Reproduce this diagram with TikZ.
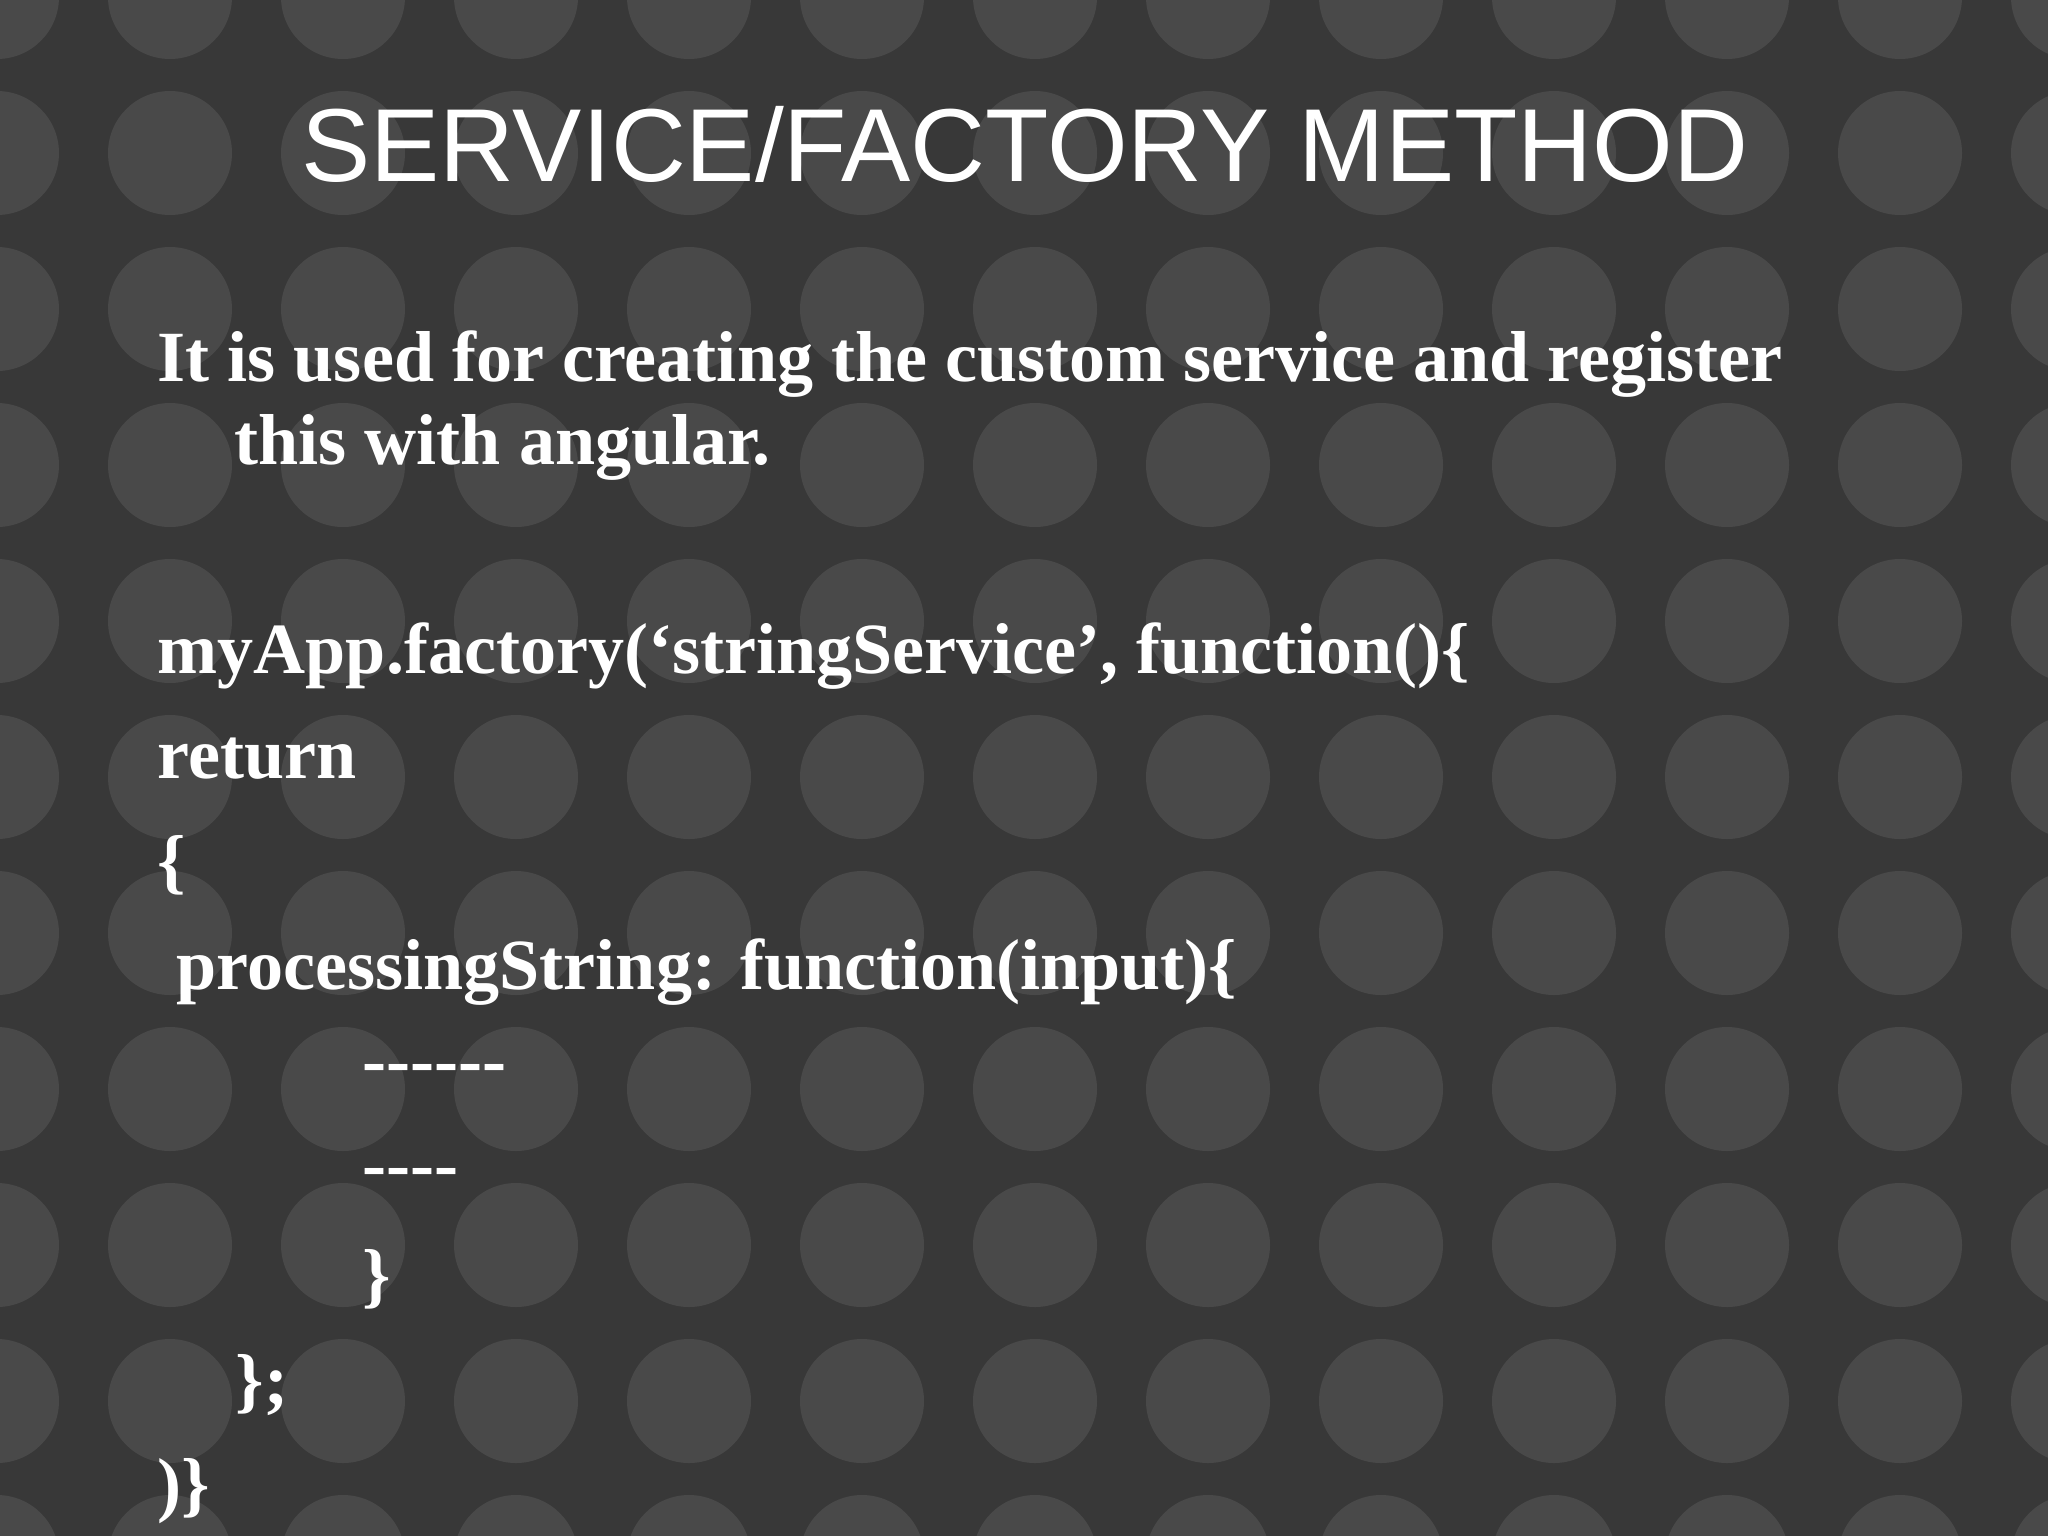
\documentclass[tikz,border=0pt]{standalone}
\usepackage{fontspec}
\setmainfont{Liberation Serif}
\setsansfont{Liberation Sans}
\definecolor{slidebg}{HTML}{383838}
\definecolor{dotfill}{HTML}{494949}
\tikzset{
  bodytext/.style={anchor=base west, inner sep=0pt, text=white, font=\fontsize{20.5}{24}\selectfont\bfseries},
  titletext/.style={anchor=base, inner sep=0pt, text=white, font=\fontsize{29.5}{35}\selectfont\sffamily}
}
\begin{document}
\begin{tikzpicture}[x=0.01cm,y=-0.01cm]
    \fill[slidebg] (0,0) rectangle (2048,1536);
    \useasboundingbox (0,0) rectangle (2048,1536);
    % dot pattern
    \foreach \i in {0,...,12}
      \foreach \j in {0,...,10}
        \fill[dotfill] (-3+173*\i, -3+156*\j) circle (62);

    \node[titletext] (title) at (1025,181) {SERVICE/FACTORY METHOD};

    \node[bodytext] (intro1) at (157,381) {It is used for creating the custom service and register};
    \node[bodytext] (intro2) at (234,464) {this with angular.};

    \node[bodytext] (code1) at (157,673) {myApp.factory(‘stringService’, function()\{};
    \node[bodytext] (code2) at (157,778) {return};
    \node[bodytext] (code3) at (157,885) {\{};
    \node[bodytext] (code4) at (176,989) {processingString: function(input)\{};
    \node[bodytext] (code5) at (362,1084) {-{}-{}-{}-{}-{}-};
    \node[bodytext] (code6) at (362,1188) {-{}-{}-{}-};
    \node[bodytext] (code7) at (362,1299) {\}};
    \node[bodytext] (code8) at (235,1404) {\};};
    \node[bodytext] (code9) at (157,1508) {)\}};
\end{tikzpicture}
\end{document}
